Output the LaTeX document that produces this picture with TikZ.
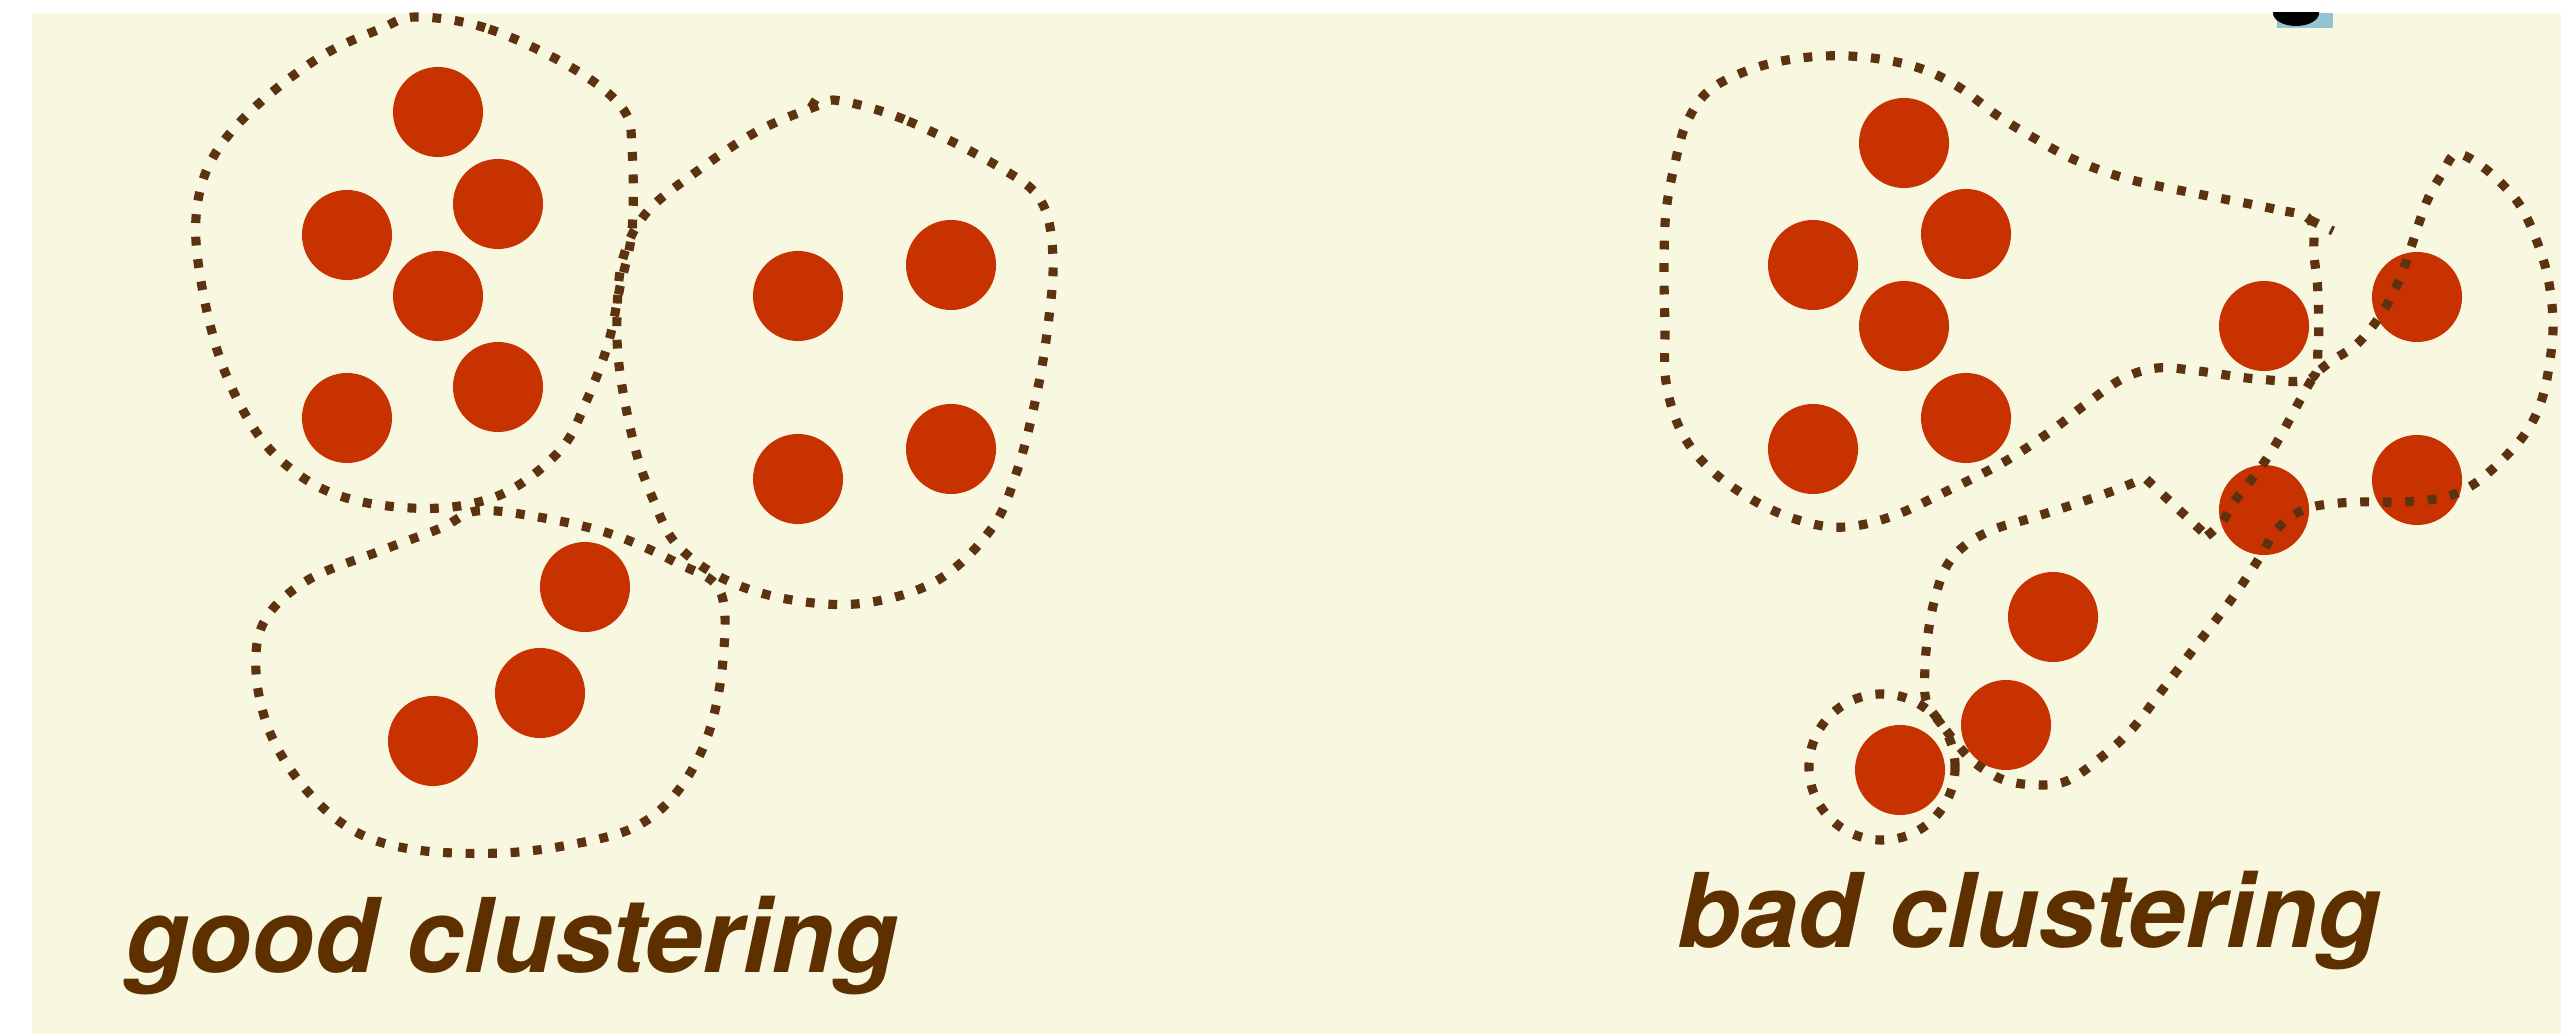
\documentclass[tikz,border=0pt]{standalone}
\usepackage{fontspec}
\setmainfont{TeX Gyre Heros}
\definecolor{cream}{RGB}{248,247,224}
\definecolor{cred}{RGB}{200,50,0}
\definecolor{cdot}{RGB}{92,50,15}
\definecolor{ctext}{RGB}{94,48,0}
\definecolor{cblue}{RGB}{150,195,210}
\begin{document}
\begin{tikzpicture}[x=0.01cm,y=-0.01cm,
  blob/.style={fill=cred},
  dotline/.style={draw=cdot,line width=2.6pt,line cap=butt,dash pattern=on 2.5pt off 3.9pt},
  label/.style={text=ctext,font=\fontsize{29.3}{32}\selectfont\bfseries\itshape,inner sep=0pt,anchor=base west}]
\useasboundingbox (0,0) rectangle (2561,1034);
\fill[white] (0,0) rectangle (2561,1034);
\fill[cream] (32,13) rectangle (2561,1034);
% cropped artifact at top right
\fill[cblue] (2277,13) rectangle (2333,28);
\begin{scope}
\clip (2260,13) rectangle (2340,40);
\fill[black] (2296,13) ellipse [x radius=0.23cm, y radius=0.13cm];
\end{scope}

% ---------- good clustering ----------
\foreach \p in {(438,112),(498,204),(347,235),(438,296),(347,418),(498,387),
                (798,296),(951,265),(798,479),(951,449),
                (585,587),(540,693),(433,741)}
  \fill[blob] \p circle[radius=0.45cm];

\draw[dotline] plot[smooth cycle,tension=0.6] coordinates {
 (417,17) (489,29) (574,69) (623,109) (632,149) (632,230) (620,287) (608,344)
 (586,402) (562,448) (514,488) (465,505) (411,508) (350,499) (302,477) (259,436)
 (223,367) (202,287) (196,218) (211,161) (253,109) (320,57) (380,29)};

\draw[dotline] plot[smooth cycle,tension=0.6] coordinates {
 (841,101) (908,121) (999,167) (1041,201) (1053,258) (1047,333) (1035,402)
 (1017,471) (992,528) (938,580) (865,603) (792,600) (726,580) (677,545) (653,499)
 (635,448) (620,373) (617,316) (623,258) (647,212) (696,172) (756,132) (817,106)};
\coordinate (btick) at (817,106);
\coordinate (btickend) at (799,95);
\draw[dotline] (btick) -- (btickend);

\draw[dotline] plot[smooth cycle,tension=0.6] coordinates {
 (477,511) (538,517) (611,534) (677,563) (720,591) (723,660) (708,735) (677,792)
 (635,827) (574,844) (502,853) (417,850) (356,832) (308,792) (271,735) (256,672)
 (265,620) (308,580) (380,551) (441,528)};

\node[label] (good) at (125,972) {good clustering};

% ---------- bad clustering ----------
\foreach \p in {(1904,143),(1966,234),(1813,265),(1904,326),(1813,449),(1966,418),
                (2264,326),(2417,297),(2264,510),(2417,480),
                (2053,617),(2006,725),(1900,770)}
  \fill[blob] \p circle[radius=0.45cm];

\draw[dotline] plot[smooth cycle,tension=0.6] coordinates {
 (2310,220) (2274,209) (2198,194) (2128,179) (2075,160) (2034,138) (1998,116)
 (1957,86) (1916,67) (1863,57) (1810,57) (1758,67) (1711,89) (1687,122) (1675,163)
 (1666,212) (1664,267) (1665,327) (1666,382) (1681,431) (1711,470) (1758,503)
 (1805,522) (1846,527) (1893,516) (1945,492) (2004,462) (2051,431) (2086,404)
 (2122,379) (2157,368) (2198,371) (2257,379) (2310,379) (2318,349) (2318,294)
 (2314,256)};
\coordinate (gtick) at (2310,220);
\coordinate (gtickend) at (2333,231);
\draw[dotline] (gtick) -- (gtickend);

\draw[dotline] plot[smooth,tension=0.6] coordinates {
 (2207,536) (2222,522) (2233,503) (2248,484) (2263,464) (2277,442) (2292,415)
 (2304,393) (2316,374) (2333,360) (2357,344) (2380,316) (2398,283) (2410,250)
 (2427,201) (2442,174) (2456,154) (2480,165) (2503,185) (2521,207) (2536,239)
 (2548,278) (2553,322) (2550,360) (2542,399) (2527,431) (2503,459) (2474,484)
 (2445,497) (2404,502) (2357,502) (2316,506) (2292,516) (2274,533) (2263,552)
 (2245,580) (2222,612) (2192,651) (2163,689) (2133,728) (2104,755) (2069,780)
 (2039,785) (2004,780) (1975,763) (1957,744) (1940,722) (1926,700) (1925,667)
 (1928,634) (1934,602) (1945,569) (1963,547) (1992,530) (2028,519) (2069,506)
 (2110,492) (2145,478)} -- cycle;

\draw[dotline] (1882,767) circle[radius=0.73cm];

\node[label] (bad) at (1677,947) {bad clustering};
\end{tikzpicture}
\end{document}
